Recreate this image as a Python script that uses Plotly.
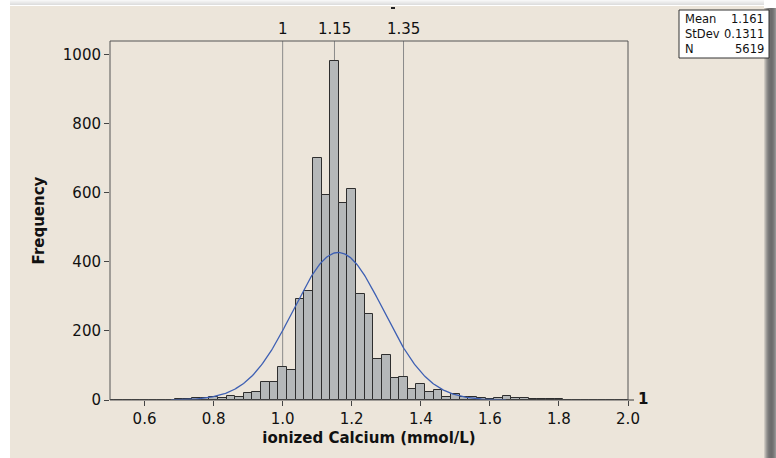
import numpy as np
import plotly.graph_objects as go

# ---- data ----
bin_start = 0.5
bin_width = 0.025
counts = [0, 0, 1, 0, 1, 0, 1, 1, 2, 2, 5, 6, 10, 5, 13, 10, 19, 23, 51, 51,
          95, 88, 293, 315, 702, 594, 983, 570, 611, 308, 248, 120, 131, 63, 67,
          33, 45, 22, 28, 10, 16, 8, 10, 5, 4, 6, 11, 5, 5, 3, 2, 2, 2, 1, 1,
          0, 1, 0, 1, 1, 0]
bin_centers = [round(bin_start + i * bin_width, 3) for i in range(len(counts))]
ref_lines = [1.0, 1.15, 1.35]
ref_labels = ["1", "1.15", "1.35"]
stat_names = ["Mean", "StDev", "N"]
stat_values = ["1.161", "0.1311", "5619"]
mean, sd, n = 1.161, 0.1311, 5619
x_ticks = [0.6, 0.8, 1.0, 1.2, 1.4, 1.6, 1.8, 2.0]
y_ticks = [0, 200, 400, 600, 800, 1000]

# fitted normal curve from the stated statistics
xc = np.linspace(mean - 3.7 * sd, mean + 3.7 * sd, 300)
yc = n * bin_width / (sd * np.sqrt(2 * np.pi)) * np.exp(-0.5 * ((xc - mean) / sd) ** 2)

# ---- layout geometry (page pixels; body margin removed by post_script) ----
W, H = 776, 458
L, R, T, B = 110, 628, 41, 400   # plot area in page pixels
pw, ph = R - L, B - T


def px(x):
    return (x - L) / pw


def py(y):
    return (B - y) / ph


FONT = "DejaVu Sans"
fig = go.Figure()
fig.add_trace(go.Bar(x=bin_centers, y=counts, width=bin_width,
                     marker=dict(color="#b5b8b9", line=dict(color="#2e2e2e", width=1)),
                     showlegend=False, hoverinfo="x+y"))
fig.add_trace(go.Scatter(x=xc, y=yc, mode="lines",
                         line=dict(color="#3d5fb3", width=1.3), showlegend=False))

shapes = []
# beige panel
shapes.append(dict(type="rect", xref="paper", yref="paper", x0=px(10), x1=px(764),
                   y0=py(470), y1=py(6), fillcolor="#ece5da", line=dict(width=0), layer="below"))
# top light shadow
for i, c in enumerate(["#f6f6f6", "#f0f0f0", "#eaeaea", "#e4e4e4", "#dedede"]):
    shapes.append(dict(type="rect", xref="paper", yref="paper", x0=px(10), x1=px(764),
                       y0=py(1 + i), y1=py(i), fillcolor=c, line=dict(width=0), layer="below"))
# right shadow
for i, c in enumerate(["#cfcac2", "#b5b2ad", "#9d9b98", "#8a8987", "#7b7b7b", "#737373",
                       "#6e6e6e", "#6c6c6c", "#707070", "#787878", "#848484", "#939393"]):
    shapes.append(dict(type="rect", xref="paper", yref="paper", x0=px(764 + i), x1=px(765 + i),
                       y0=py(470), y1=py(8), fillcolor=c, line=dict(width=0), layer="below"))
# reference lines
for v in ref_lines:
    shapes.append(dict(type="line", xref="x", yref="paper", x0=v, x1=v, y0=0, y1=1,
                       line=dict(color="#8a8a8a", width=1), layer="below"))
# frame
shapes.append(dict(type="rect", xref="paper", yref="paper", x0=0, x1=1, y0=0, y1=1,
                   line=dict(color="#555555", width=1)))
# right-side tick for ref "1"
shapes.append(dict(type="line", xref="paper", yref="paper", x0=1, x1=px(634), y0=py(400), y1=py(400),
                   line=dict(color="#333333", width=1)))
# stats box
shapes.append(dict(type="rect", xref="paper", yref="paper", x0=px(679), x1=px(769),
                   y0=py(58), y1=py(10), fillcolor="white", line=dict(color="#333333", width=1)))
# small dash at top
shapes.append(dict(type="line", xref="paper", yref="paper", x0=px(391), x1=px(395), y0=py(8), y1=py(8),
                   line=dict(color="#222222", width=2)))

annotations = []
for v, lab in zip(ref_lines, ref_labels):
    annotations.append(dict(x=v, y=py(29), xref="x", yref="paper", text=lab, showarrow=False,
                            font=dict(family=FONT, size=15, color="#111"), xanchor="center",
                            yanchor="middle"))
annotations.append(dict(x=px(636), y=py(399), xref="paper", yref="paper", text="<b>1</b>",
                        showarrow=False, font=dict(family=FONT, size=15, color="#111"),
                        xanchor="left", yanchor="middle"))
for i, (nm, val) in enumerate(zip(stat_names, stat_values)):
    yy = py(19 + i * 15)
    annotations.append(dict(x=px(683), y=yy, xref="paper", yref="paper", text=nm, showarrow=False,
                            font=dict(family=FONT, size=11.5, color="#111"), xanchor="left",
                            yanchor="middle"))
    annotations.append(dict(x=px(766), y=yy, xref="paper", yref="paper", text=val, showarrow=False,
                            font=dict(family=FONT, size=11.5, color="#111"), xanchor="right",
                            yanchor="middle"))

fig.update_layout(
    width=W, height=H,
    margin=dict(l=L, r=W - R, t=T, b=H - B, pad=0),
    paper_bgcolor="white", plot_bgcolor="white",
    bargap=0, shapes=shapes, annotations=annotations,
    font=dict(family=FONT, size=15, color="#111"),
    xaxis=dict(range=[0.5, 2.0], tickvals=x_ticks, ticktext=[f"{v:.1f}" for v in x_ticks],
               ticks="outside", ticklen=5, tickcolor="#444", showgrid=False, zeroline=False,
               showline=False, tickfont=dict(family=FONT, size=15, color="#111"),
               title=dict(text="<b>ionized Calcium (mmol/L)</b>", standoff=5,
                          font=dict(family=FONT, size=15, color="#111"))),
    yaxis=dict(range=[0, 1040], tickvals=y_ticks, ticks="outside", ticklen=5, tickcolor="#444",
               showgrid=False, zeroline=False, showline=False,
               tickfont=dict(family=FONT, size=15, color="#111"),
               title=dict(text="<b>Frequency</b>", standoff=14,
                          font=dict(family=FONT, size=15, color="#111"))),
)

fig.write_html("out.html",
               config={"displayModeBar": False},
               post_script="document.body.style.margin='0';"
                           "document.documentElement.style.overflow='hidden';"
                           "document.body.style.overflow='hidden';")
